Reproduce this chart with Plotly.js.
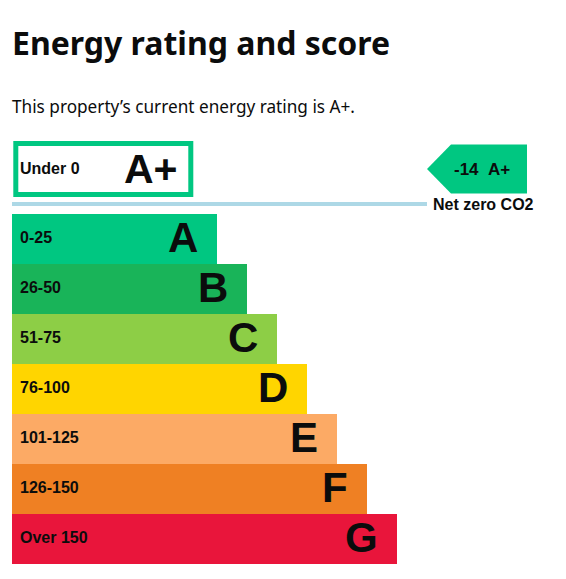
<!DOCTYPE html>
<html>
<head>
<meta charset="utf-8">
<script src="https://cdn.plot.ly/plotly-3.0.1.min.js"></script>
<style>html,body{margin:0;padding:0;background:#fff;}#chart{width:566px;height:579px;}</style>
</head>
<body>
<div id="chart"></div>
<script>
// ---- data ----
const bands = ['A', 'B', 'C', 'D', 'E', 'F', 'G'];
const ranges = ['0-25', '26-50', '51-75', '76-100', '101-125', '126-150', 'Over 150'];
const barLengths = [205, 235, 265, 295, 325, 355, 385];
const colors = ['#00c781', '#19b459', '#8dce46', '#ffd500', '#fcaa65', '#ef8023', '#e9153b'];
const topBand = 'A+';
const topRange = 'Under 0';
const topColor = '#00c781';
const currentScore = -14;
const currentRating = 'A+';
const netZeroLabel = 'Net zero CO2';
const titleText = 'Energy rating and score';
const subtitleText = 'This property\u2019s current energy rating is A+.';

// ---- layout helpers (row units: 1 row = one band) ----
const rows = bands.map((b, i) => i);
const topRow = -1.4;
const lineRow = -0.7;
const labelFont = 'Liberation Sans, Arial, sans-serif';

const bars = {
  type: 'bar', orientation: 'h',
  y: rows, x: barLengths, base: 0, width: 1,
  marker: {color: colors, line: {width: 0}},
  hoverinfo: 'skip', showlegend: false
};

const annotations = [];
rows.forEach((r, i) => {
  annotations.push({x: 6, y: r, xref: 'x', yref: 'y', yshift: 1.5, text: '<b>' + ranges[i] + '</b>',
    showarrow: false, xanchor: 'left', yanchor: 'middle',
    font: {family: labelFont, size: 16, color: '#0b0c0c'}});
  annotations.push({x: barLengths[i] - 17, y: r, xref: 'x', yref: 'y', yshift: 1.5, text: '<b>' + bands[i] + '</b>',
    showarrow: false, xanchor: 'right', yanchor: 'middle',
    font: {family: labelFont, size: 42, color: '#0b0c0c'}});
});
annotations.push({x: 6, y: topRow, xref: 'x', yref: 'y', yshift: 1, text: '<b>' + topRange + '</b>',
  showarrow: false, xanchor: 'left', yanchor: 'middle',
  font: {family: labelFont, size: 16, color: '#0b0c0c'}});
annotations.push({x: 168, y: topRow, xref: 'x', yref: 'y', text: '<b>' + topBand + '</b>',
  showarrow: false, xanchor: 'right', yanchor: 'middle',
  font: {family: labelFont, size: 41, color: '#0b0c0c'}});
annotations.push({x: 470, y: topRow, xref: 'x', yref: 'y',
  text: '<b>' + currentScore + '&nbsp;&nbsp;' + currentRating + '</b>',
  showarrow: false, xanchor: 'center', yanchor: 'middle',
  font: {family: labelFont, size: 17, color: '#0b0c0c'}});
annotations.push({x: 418.5, y: lineRow, xref: 'x', yref: 'y', text: '<b>' + netZeroLabel + '</b>',
  showarrow: false, xanchor: 'left', yanchor: 'middle',
  font: {family: labelFont, size: 16, color: '#0b0c0c'}});
annotations.push({x: 10 / 566, y: 1 - 106 / 579, xref: 'paper', yref: 'paper', text: subtitleText,
  showarrow: false, xanchor: 'left', yanchor: 'middle',
  font: {family: 'Noto Sans, sans-serif', size: 17.2, color: '#0b0c0c'}});

const shapes = [
  {type: 'rect', xref: 'x', yref: 'y', x0: 3.8, x1: 178.8, y0: topRow - 0.51, y1: topRow + 0.51,
    line: {color: topColor, width: 5}, fillcolor: 'white'},
  {type: 'line', xref: 'x', yref: 'y', x0: 0, x1: 415, y0: lineRow, y1: lineRow,
    line: {color: '#add8e6', width: 4}},
  {type: 'path', xref: 'x', yref: 'y',
    path: 'M 415 ' + topRow + ' L 439 ' + (topRow - 0.49) + ' L 515 ' + (topRow - 0.49) +
          ' L 515 ' + (topRow + 0.49) + ' L 439 ' + (topRow + 0.49) + ' Z',
    fillcolor: topColor, line: {width: 0}}
];

const layout = {
  width: 566, height: 579,
  margin: {l: 0, r: 0, t: 0, b: 0, pad: 0},
  paper_bgcolor: 'white', plot_bgcolor: 'white',
  title: {text: '<b>' + titleText + '</b>', x: 12 / 566, xanchor: 'left', xref: 'paper',
    y: 1 - 44 / 579, yref: 'container', yanchor: 'middle',
    font: {family: 'Noto Sans, sans-serif', size: 32, color: '#0b0c0c'}},
  xaxis: {range: [-12, 554], visible: false, fixedrange: true},
  yaxis: {range: [6.8, -4.78], visible: false, fixedrange: true},
  bargap: 0,
  shapes: shapes,
  annotations: annotations,
  showlegend: false
};

Plotly.newPlot('chart', [bars], layout, {displayModeBar: false, staticPlot: true});
</script>
</body>
</html>
